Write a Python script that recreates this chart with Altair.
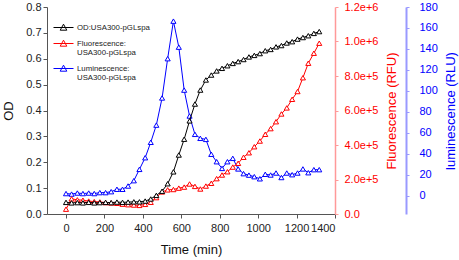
import altair as alt
import pandas as pd

time_min = [0, 29, 59, 88, 118, 147, 176, 206, 235, 265, 294, 323, 353, 382, 412, 441,
            470, 500, 529, 559, 587, 615, 643, 671, 699, 728, 756, 784, 812, 840, 868,
            896, 924, 952, 980, 1009, 1037, 1065, 1093, 1121, 1149, 1177, 1205, 1233,
            1261, 1290, 1318]

od = [0.045, 0.043, 0.044, 0.043, 0.045, 0.043, 0.044, 0.045, 0.044, 0.046, 0.045,
      0.046, 0.047, 0.047, 0.050, 0.058, 0.072, 0.088, 0.117, 0.163, 0.228, 0.289,
      0.360, 0.425, 0.479, 0.518, 0.537, 0.553, 0.563, 0.573, 0.582, 0.589, 0.597,
      0.607, 0.613, 0.620, 0.631, 0.636, 0.646, 0.651, 0.661, 0.666, 0.676, 0.682,
      0.689, 0.698, 0.705]

fluorescence = [28000, 88000, 82000, 80000, 75000, 72000, 70000, 66000, 64000, 62000,
                57000, 54000, 52000, 50000, 56000, 68000, 95000, 128000, 140000, 142000,
                150000, 156000, 174000, 160000, 145000, 162000, 178000, 205000, 226000,
                245000, 272000, 294000, 329000, 355000, 390000, 423000, 462000, 495000,
                535000, 580000, 615000, 665000, 710000, 790000, 874000, 932000, 990000]

luminescence = [2.0, 1.5, 2.5, 2.0, 2.5, 2.0, 2.9, 2.9, 3.8, 6.1, 6.1, 9.2, 14.3, 25.1,
                36.2, 50.9, 67.3, 93.2, 130.7, 166.5, 141.7, 100.7, 76.0, 58.5, 54.7,
                53.7, 39.5, 32.4, 26.0, 32.4, 35.6, 25.5, 21.0, 19.6, 18.1, 16.1, 20.4,
                19.7, 21.6, 17.3, 21.6, 20.0, 21.6, 25.5, 21.9, 24.8, 24.8]

series_names = ["OD:USA300-pGLspa", "Fluorescence: USA300-pGLspa",
                "Luminescence: USA300-pGLspa"]
series_colors = ["#000000", "#ff0000", "#0000ff"]

x_ticks = [0, 200, 400, 600, 800, 1000, 1200, 1400]
od_ticks = [0.0, 0.1, 0.2, 0.3, 0.4, 0.5, 0.6, 0.7, 0.8]
fl_ticks = [0, 200000, 400000, 600000, 800000, 1000000, 1200000]
lu_ticks = [0, 20, 40, 60, 80, 100, 120, 140, 160, 180]

rows = []
for name, vals in zip(series_names, [od, fluorescence, luminescence]):
    for t, v in zip(time_min, vals):
        rows.append({"time": t, "value": v, "series": name})
df = pd.DataFrame(rows)

FONT = "Liberation Sans"
W, H = 288, 207

color = alt.Color(
    "series:N",
    scale=alt.Scale(domain=series_names, range=series_colors),
    legend=alt.Legend(
        title=None, orient="none", legendX=6, legendY=10,
        symbolType="M-1,0H1M0,-0.33L0.33,0.27L-0.33,0.27Z",
        symbolSize=400, symbolStrokeWidth=1, symbolFillColor="white",
        labelExpr="split(datum.label, ' ')",
        labelFont=FONT, labelFontSize=7.8, labelColor="#222222",
        labelBaseline="middle", labelLimit=200, rowPadding=0, labelOffset=3,
        padding=0,
    ),
)

x_enc = alt.X(
    "time:Q",
    scale=alt.Scale(domain=[-99, 1400], nice=False, zero=False),
    axis=alt.Axis(
        values=x_ticks, title="Time (min)", grid=False, format="d",
        domainColor="#555555", tickColor="#555555", tickSize=4,
        labelFont=FONT, labelFontSize=11, labelColor="#222222", labelPadding=4,
        titleFont=FONT, titleFontSize=13, titleFontWeight="normal",
        titleColor="#111111", titleY=35, titleBaseline="middle",
    ),
)


def series_layer(name, yscale, axis):
    return (
        alt.Chart(df)
        .transform_filter(alt.datum.series == name)
        .mark_line(
            strokeWidth=1,
            point=alt.OverlayMarkDef(shape="triangle-up", size=26, filled=False,
                                     fill="white", strokeWidth=1),
        )
        .encode(x=x_enc, y=alt.Y("value:Q", scale=yscale, axis=axis), color=color)
    )


od_axis = alt.Axis(
    orient="left", values=od_ticks, format=".1f", title="OD", grid=False,
    domainColor="#555555", tickColor="#555555", tickSize=4,
    labelFont=FONT, labelFontSize=11, labelColor="#222222", labelPadding=2,
    titleFont=FONT, titleFontSize=13, titleFontWeight="normal", titleColor="#111111",
    titleAngle=270, titleX=-39, titleY=H / 2, titleAlign="center", titleBaseline="middle",
)
fl_axis = alt.Axis(
    orient="right", values=fl_ticks, title="Fluorescence (RFU)", grid=False,
    labelExpr="datum.value == 0 ? '0.0' : format(datum.value, '.1e')",
    domainColor="#ff9999", domainWidth=1.5, tickColor="#ff9999", tickSize=3,
    labelFont=FONT, labelFontSize=11, labelColor="#ff0000", labelPadding=6,
    titleFont=FONT, titleFontSize=13, titleFontWeight="normal", titleColor="#ff0000",
    titleAngle=270, titleX=56, titleY=H / 2, titleAlign="center", titleBaseline="middle",
)
lu_axis = alt.Axis(
    orient="right", offset=71, values=lu_ticks, format="d",
    title="luminescence (RLU)", grid=False,
    domainColor="#9999ff", domainWidth=2, tickColor="#9999ff", tickSize=3,
    labelFont=FONT, labelFontSize=11, labelColor="#0000ff", labelPadding=10,
    titleFont=FONT, titleFontSize=13, titleFontWeight="normal", titleColor="#0000ff",
    titleAngle=270, titleX=44, titleY=H / 2, titleAlign="center", titleBaseline="middle",
)

od_layer = series_layer(series_names[0], alt.Scale(domain=[0, 0.8], nice=False), od_axis)
fl_layer = series_layer(series_names[1], alt.Scale(domain=[0, 1200000], nice=False), fl_axis)
lu_layer = series_layer(series_names[2], alt.Scale(domain=[-17.5, 180], nice=False), lu_axis)

chart = (
    alt.layer(lu_layer, fl_layer, od_layer)
    .resolve_scale(y="independent")
    .properties(
        width=W, height=H,
        autosize=alt.AutoSizeParams(type="none"),
        padding={"left": 47, "top": 7, "right": 124, "bottom": 46},
        background="white",
    )
    .configure_view(stroke=None)
)

chart.save("out.html", embed_options={"renderer": "svg", "actions": False})
